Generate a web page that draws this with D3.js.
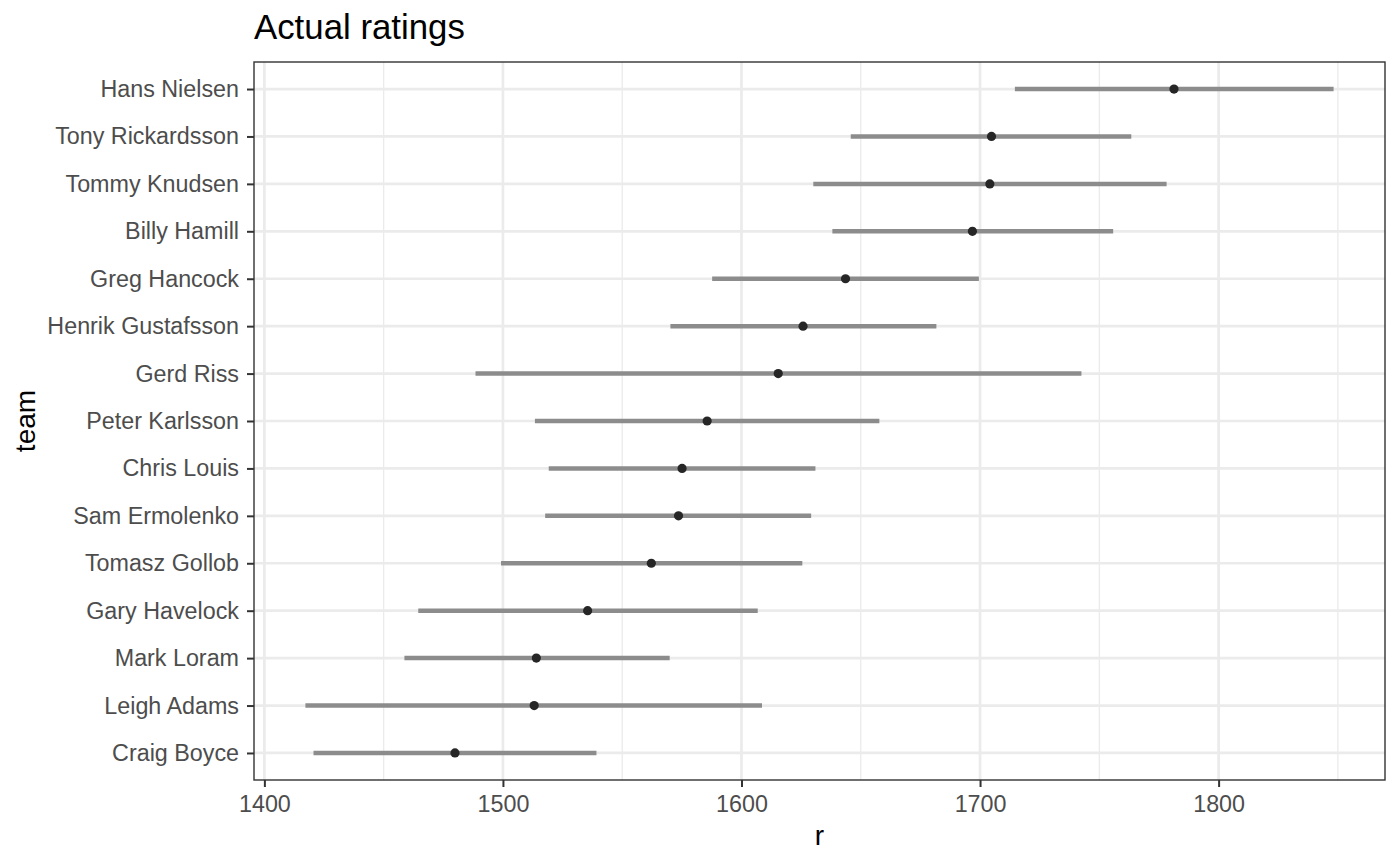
<!DOCTYPE html>
<html>
<head>
<meta charset="utf-8">
<script src="https://cdn.jsdelivr.net/npm/d3@7"></script>
<style>
  html, body { margin: 0; padding: 0; background: #fff; }
  svg { display: block; font-family: "Liberation Sans", Arial, sans-serif; }
</style>
</head>
<body>
<svg id="chart" width="1400" height="865"></svg>
<script>
// ---- data ----
const riders = ["Hans Nielsen", "Tony Rickardsson", "Tommy Knudsen", "Billy Hamill",
  "Greg Hancock", "Henrik Gustafsson", "Gerd Riss", "Peter Karlsson", "Chris Louis",
  "Sam Ermolenko", "Tomasz Gollob", "Gary Havelock", "Mark Loram", "Leigh Adams", "Craig Boyce"];
const rating = [1781.3, 1704.8, 1704.1, 1696.8, 1643.6, 1625.8, 1615.4, 1585.6, 1575.1,
  1573.6, 1562.2, 1535.5, 1514.0, 1513.1, 1479.9];
const lower = [1714.6, 1645.8, 1630.1, 1638.1, 1587.7, 1570.2, 1488.5, 1513.4, 1519.2,
  1517.7, 1499.2, 1464.5, 1458.7, 1417.2, 1420.6];
const upper = [1848.2, 1763.4, 1778.2, 1755.8, 1699.5, 1681.7, 1742.5, 1657.8, 1631.0,
  1629.2, 1625.5, 1606.8, 1569.9, 1608.6, 1539.2];
const xTicks = [1400, 1500, 1600, 1700, 1800];
const xMinor = [1450, 1550, 1650, 1750, 1850];

const rows = riders.map((name, i) => ({ name, r: rating[i], lo: lower[i], hi: upper[i] }));

// ---- layout ----
const svg = d3.select("#chart");
const P = { left: 254, right: 1385, top: 62, bottom: 780 };
const FONT = "'Liberation Sans', Arial, sans-serif";

const lo = d3.min(lower), hi = d3.max(upper);
const pad = (hi - lo) * 0.05;
const x = d3.scaleLinear().domain([lo - pad, hi + pad]).range([P.left, P.right]);
const y = d3.scalePoint().domain(riders).range([P.top, P.bottom]).padding(0.57);

// panel background
svg.append("rect").attr("x", P.left).attr("y", P.top)
  .attr("width", P.right - P.left).attr("height", P.bottom - P.top).attr("fill", "#fff");

// grid
const grid = svg.append("g");
grid.selectAll(".minor").data(xMinor.filter(v => x(v) < P.right)).join("line")
  .attr("x1", d => x(d)).attr("x2", d => x(d)).attr("y1", P.top).attr("y2", P.bottom)
  .attr("stroke", "#ebebeb").attr("stroke-width", 1.3);
grid.selectAll(".major").data(xTicks).join("line")
  .attr("x1", d => x(d)).attr("x2", d => x(d)).attr("y1", P.top).attr("y2", P.bottom)
  .attr("stroke", "#ebebeb").attr("stroke-width", 2.7);
grid.selectAll(".ymajor").data(riders).join("line")
  .attr("x1", P.left).attr("x2", P.right).attr("y1", d => y(d)).attr("y2", d => y(d))
  .attr("stroke", "#ebebeb").attr("stroke-width", 2.7);

// ranges
svg.append("g").selectAll("line").data(rows).join("line")
  .attr("x1", d => x(d.lo)).attr("x2", d => x(d.hi))
  .attr("y1", d => y(d.name)).attr("y2", d => y(d.name))
  .attr("stroke", "#8c8c8c").attr("stroke-width", 4.5);

// points
svg.append("g").selectAll("circle").data(rows).join("circle")
  .attr("cx", d => x(d.r)).attr("cy", d => y(d.name)).attr("r", 4.6)
  .attr("fill", "#262626");

// panel border
svg.append("rect").attr("x", P.left).attr("y", P.top)
  .attr("width", P.right - P.left).attr("height", P.bottom - P.top)
  .attr("fill", "none").attr("stroke", "#333").attr("stroke-width", 1.4);

// axes
const xAxis = d3.axisBottom(x).tickValues(xTicks).tickSize(7).tickPadding(8.5).tickFormat(d3.format("d"));
const gx = svg.append("g").attr("transform", `translate(0,${P.bottom})`).call(xAxis);
gx.select(".domain").remove();
gx.selectAll(".tick line").attr("stroke", "#333").attr("stroke-width", 2);
gx.selectAll(".tick text").attr("fill", "#4d4d4d").style("font-size", "23.3px")
  .style("font-family", FONT);

const yAxis = d3.axisLeft(y).tickSize(7).tickPadding(8);
const gy = svg.append("g").attr("transform", `translate(${P.left},0)`).call(yAxis);
gy.select(".domain").remove();
gy.selectAll(".tick line").attr("stroke", "#333").attr("stroke-width", 2);
gy.selectAll(".tick text").attr("fill", "#4d4d4d").style("font-size", "23.3px")
  .style("font-family", FONT);

// titles
svg.append("text").attr("x", P.left).attr("y", 38.5).text("Actual ratings")
  .attr("fill", "#000").style("font-size", "34.8px").style("font-family", FONT);
svg.append("text").attr("x", (P.left + P.right) / 2).attr("y", 845).attr("text-anchor", "middle")
  .text("r").attr("fill", "#000").style("font-size", "28px").style("font-family", FONT);
svg.append("text").attr("transform", `translate(35,${(P.top + P.bottom) / 2}) rotate(-90)`)
  .attr("text-anchor", "middle").text("team").attr("fill", "#000").style("font-size", "28px")
  .style("font-family", FONT);
</script>
</body>
</html>
